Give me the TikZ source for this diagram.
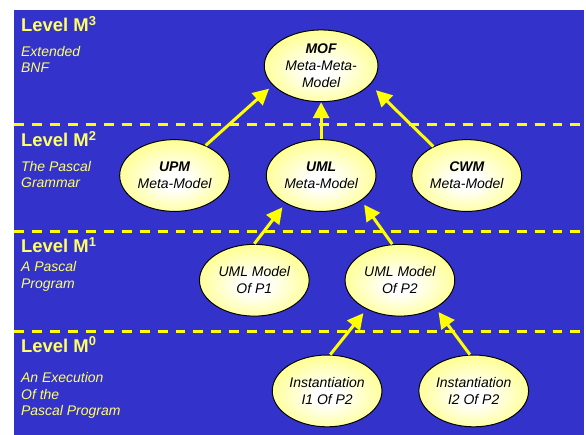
\documentclass[tikz,border=0pt]{standalone}
\usepackage{fontspec}
\setmainfont{Liberation Sans}
\usetikzlibrary{shapes.geometric,arrows.meta}
\definecolor{slideblue}{HTML}{3333CC}
\definecolor{lineyellow}{HTML}{FFFF00}
\definecolor{textyellow}{HTML}{FFFF66}
\definecolor{ballyellow}{HTML}{FFFF55}
\pgfdeclareradialshading{ballshade}{\pgfpoint{0bp}{-4bp}}{color(0bp)=(white); color(6bp)=(white); color(38bp)=(ballyellow); color(50bp)=(ballyellow)}
\begin{document}
\begin{tikzpicture}[x=1bp,y=-1bp]
	\tikzstyle{model}=[ellipse,draw=black,line width=1bp,shade,shading=ballshade,minimum width=110bp,minimum height=72bp,inner sep=0pt,align=center,font=\fontsize{14bp}{17bp}\selectfont\itshape]
	\tikzstyle{level}=[anchor=base west,inner sep=0pt,text=textyellow,font=\fontsize{18.5bp}{20bp}\selectfont\bfseries]
	\tikzstyle{note}=[anchor=base west,inner sep=0pt,align=left,text=textyellow,font=\fontsize{14bp}{16.5bp}\selectfont\itshape]
	\tikzstyle{border}=[draw=lineyellow,line width=3.2bp,dash pattern=on 10bp off 8bp]
	\tikzstyle{lift}=[color=lineyellow,line width=3bp,-{Triangle[length=16bp,width=16bp]},shorten >=5bp]
	% slide background and level borders
	\fill[white] (0,0) rectangle (586,436);
	\fill[slideblue] (14,10) rectangle (586,436);
	\foreach \y in {125,232,332}
		\draw[border] (14,\y) -- (586,\y);
	% level captions (notes sit on their last baseline)
	\node[level] (l_3) at (21,32) {Level M\textsuperscript{3}};
	\node[note] (n_3) at (21,73) {Extended\\BNF};
	\node[level] (l_2) at (21,147) {Level M\textsuperscript{2}};
	\node[note] (n_2) at (21,188) {The Pascal\\Grammar};
	\node[level] (l_1) at (21,253) {Level M\textsuperscript{1}};
	\node[note] (n_1) at (21,289) {A Pascal\\Program};
	\node[level] (l_0) at (21,353) {Level M\textsuperscript{0}};
	\node[note] (n_0) at (21,417) {An Execution\\Of the\\Pascal Program};
	% models
	\node[model,minimum width=114bp] (mof) at (322,66) {\textbf{MOF}\\Meta-Meta-\\Model};
	\node[model] (upm) at (175,176) {\textbf{UPM}\\Meta-Model};
	\node[model] (uml) at (322,176) {\textbf{UML}\\Meta-Model};
	\node[model] (cwm) at (468,176) {\textbf{CWM}\\Meta-Model};
	\node[model] (p_1) at (255,281) {UML Model\\Of P1};
	\node[model] (p_2) at (401,281) {UML Model\\Of P2};
	\node[model] (i_1) at (328,392) {Instantiation\\I1 Of P2};
	\node[model] (i_2) at (475,392) {Instantiation\\I2 Of P2};
	% instance-of arrows
	\draw[lift] (upm.44) -- (mof.202);
	\draw[lift,shorten >=0bp] (uml) -- (mof);
	\draw[lift,shorten >=8bp] (cwm.139) -- (mof.339);
	\draw[lift] (p_1.north) -- (uml.218);
	\draw[lift] (p_2.102) -- (uml.328);
	\draw[lift] (i_1.85) -- (p_2.221);
	\draw[lift] (i_2.96) -- (p_2.322);
\end{tikzpicture}
\end{document}
